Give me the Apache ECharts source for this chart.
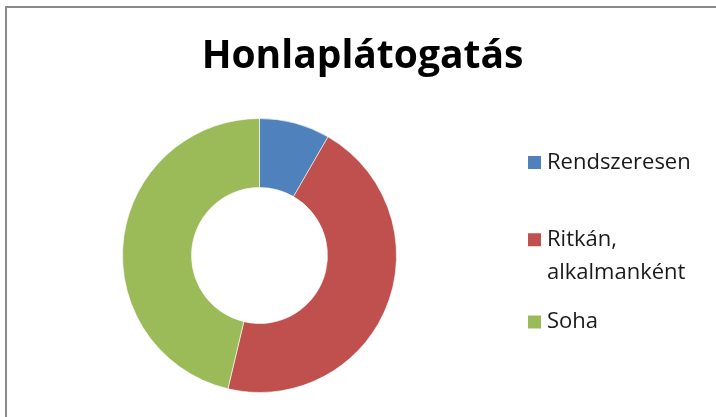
<!DOCTYPE html>
<html>
<head>
<meta charset="utf-8">
<script src="https://cdn.jsdelivr.net/npm/echarts@6/dist/echarts.min.js"></script>
<style>
html,body{margin:0;padding:0;background:#fff;}
#chart{width:716px;height:417px;}
</style>
</head>
<body>
<div id="chart"></div>
<script>
const titleText = 'Honlaplátogatás';
const categories = ['Rendszeresen', 'Ritkán,\nalkalmanként', 'Soha'];
const values = [9, 49, 50];
const colors = ['#4F81BD', '#C0504D', '#9BBB59'];

const FONT = 'Open Sans';
const FS = 22;
const L = 33;
const chart = echarts.init(document.getElementById('chart'), null, {renderer: 'canvas'});

const baseLegend = {
  orient: 'vertical',
  left: 521,
  padding: 5,
  itemWidth: 15,
  itemHeight: 15,
  icon: 'rect',
  selectedMode: false,
  textStyle: {fontFamily: FONT, fontSize: FS, color: '#1a1a1a', lineHeight: 15}
};

chart.setOption({
  animation: false,
  backgroundColor: '#ffffff',
  color: colors,
  title: {
    text: titleText,
    left: 357.5,
    top: 32,
    textAlign: 'center',
    textStyle: {fontFamily: FONT, fontWeight: 'bold', fontSize: 39, color: '#000'}
  },
  legend: [
    Object.assign({}, baseLegend, {top: 146.5, data: [categories[0]]}),
    Object.assign({}, baseLegend, {top: 234.8 - 1.5 * L, data: [categories[1]],
      formatter: name => ' \n' + name,
      textStyle: {fontFamily: FONT, fontSize: FS, color: '#1a1a1a', lineHeight: L}}),
    Object.assign({}, baseLegend, {top: 306, data: [categories[2]]})
  ],
  graphic: [{
    type: 'rect',
    shape: {x: 6, y: 7, width: 800, height: 500},
    style: {fill: 'none', stroke: '#8a8a8a', lineWidth: 2},
    silent: true
  }],
  series: [{
    type: 'pie',
    center: [259.5, 255.5],
    radius: [68, 137],
    startAngle: 90,
    clockwise: true,
    label: {show: false},
    labelLine: {show: false},
    emphasis: {disabled: true},
    itemStyle: {borderColor: '#ffffff', borderWidth: 0.6},
    data: categories.map((c, i) => ({name: c, value: values[i]}))
  }]
});
</script>
</body>
</html>
